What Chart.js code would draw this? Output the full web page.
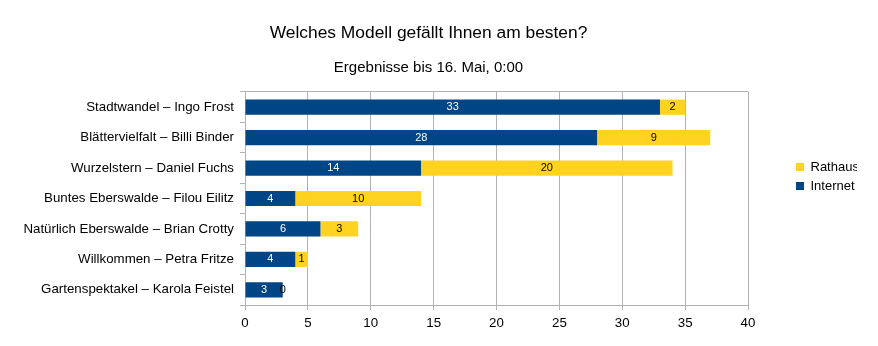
<!DOCTYPE html>
<html>
<head>
<meta charset="utf-8">
<script src="https://cdn.jsdelivr.net/npm/chart.js@4.4.1/dist/chart.umd.min.js"></script>
<style>
  html, body { margin: 0; padding: 0; background: #fff; }
  #wrap { width: 878px; height: 346px; }
</style>
</head>
<body>
<div id="wrap"><canvas id="chart" width="878" height="346"></canvas></div>
<script>
const categories = [
  'Stadtwandel – Ingo Frost',
  'Blättervielfalt – Billi Binder',
  'Wurzelstern – Daniel Fuchs',
  'Buntes Eberswalde – Filou Eilitz',
  'Natürlich Eberswalde – Brian Crotty',
  'Willkommen – Petra Fritze',
  'Gartenspektakel – Karola Feistel'
];
const internet = [33, 28, 14, 4, 6, 4, 3];
const rathaus  = [2, 9, 20, 10, 3, 1, 0];

const xMin = 0, xMax = 40, xStep = 5;

const gridGrey = '#b3b3b3';
Chart.defaults.font.family = '"Liberation Sans", Arial, sans-serif';
Chart.defaults.color = '#000';

// value labels in the middle of each segment
const barLabels = {
  id: 'barLabels',
  afterDatasetsDraw(chart) {
    const ctx = chart.ctx;
    ctx.save();
    ctx.font = '11px "Liberation Sans", Arial, sans-serif';
    ctx.textAlign = 'center';
    ctx.textBaseline = 'middle';
    chart.data.datasets.forEach((ds, i) => {
      chart.getDatasetMeta(i).data.forEach((bar, j) => {
        ctx.fillStyle = ds.labelColor;
        ctx.fillText(ds.data[j], (bar.x + bar.base) / 2, bar.y);
      });
    });
    ctx.restore();
  }
};

new Chart(document.getElementById('chart'), {
  type: 'bar',
  data: {
    labels: categories,
    datasets: [
      { label: 'Internet', data: internet, backgroundColor: '#004586', borderWidth: 0, labelColor: '#ffffff' },
      { label: 'Rathaus',  data: rathaus,  backgroundColor: '#ffd320', borderWidth: 0, labelColor: '#000000' }
    ]
  },
  options: {
    indexAxis: 'y',
    responsive: false,
    animation: false,
    devicePixelRatio: 1,
    barPercentage: 0.5,
    categoryPercentage: 1,
    layout: { padding: { top: 7, right: 21, bottom: 0, left: 0 } },
    scales: {
      x: {
        stacked: true,
        min: xMin, max: xMax,
        grid: { color: gridGrey, tickColor: gridGrey, tickLength: 5 },
        border: { color: gridGrey },
        ticks: { stepSize: xStep, padding: 5, font: { size: 13.3 }, color: '#000' },
        afterFit: s => { s.height = 41; }
      },
      y: {
        stacked: true,
        grid: {
          color: c => c.index === 0 ? gridGrey : 'rgba(0,0,0,0)',
          tickColor: gridGrey,
          tickLength: 5
        },
        border: { color: gridGrey },
        ticks: { padding: 6, font: { size: 13.3 }, color: '#000' },
        afterFit: s => { s.width = 245; }
      },
      // spacer between plot and legend
      y2: {
        type: 'linear',
        position: 'right',
        grid: { display: false },
        border: { display: false },
        ticks: { display: false },
        afterFit: s => { s.width = 42; }
      }
    },
    plugins: {
      title: {
        display: true,
        text: 'Welches Modell gefällt Ihnen am besten?',
        font: { size: 17.4, weight: 'normal' },
        color: '#000',
        padding: { top: 16, bottom: 0 }
      },
      subtitle: {
        display: true,
        text: 'Ergebnisse bis 16. Mai, 0:00',
        font: { size: 15 },
        color: '#000',
        padding: { top: 14.6, bottom: 15.5 }
      },
      legend: {
        position: 'right',
        reverse: true,
        maxWidth: 67,
        labels: { boxWidth: 8, boxHeight: 8, padding: 6, font: { size: 13 }, color: '#000' }
      },
      tooltip: { enabled: false }
    }
  },
  plugins: [barLabels]
});
</script>
</body>
</html>
